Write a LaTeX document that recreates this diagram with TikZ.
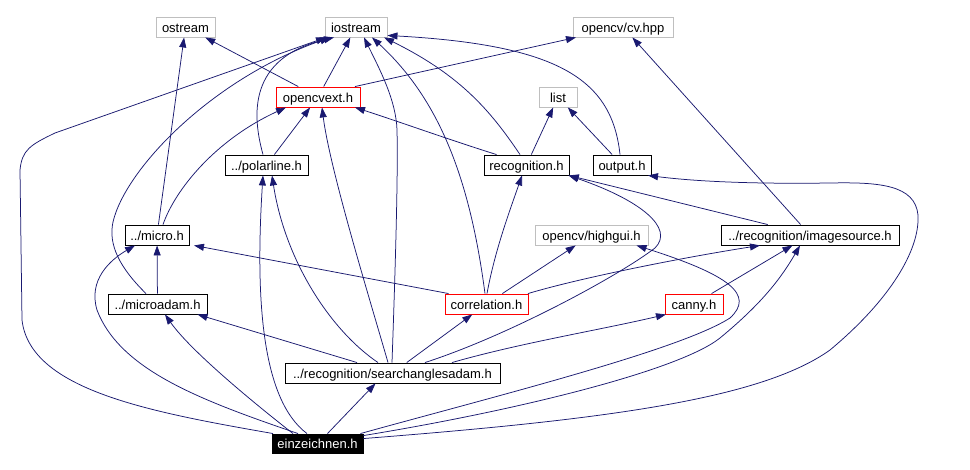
\documentclass[tikz,border=0pt]{standalone}
\usepackage{fontspec}
\setmainfont{Liberation Sans}
\usetikzlibrary{arrows.meta}
\definecolor{edgeblue}{HTML}{191970}
\definecolor{boxgray}{HTML}{BFBFBF}
\begin{document}
\begin{tikzpicture}[x=1pt,y=-1pt,
  box/.style={draw=black, line width=0.9pt, fill=white, minimum height=20pt, inner sep=0pt, text height=11.5pt, text depth=0.5pt, font=\fontsize{13}{15}\selectfont, text=black},
  gbox/.style={box, draw=boxgray},
  rbox/.style={box, draw=red},
  kbox/.style={box, fill=black, text=white, draw=black, minimum height=19pt},
  e/.style={draw=edgeblue, line width=0.75pt, -{Triangle[length=10pt,width=7pt]}}]
\path[use as bounding box, fill=white] (0,0) rectangle (970,470);
% nodes
\node[gbox, minimum width=59pt]  (ostream)   at (185.5,27) {ostream};
\node[gbox, minimum width=62pt]  (iostream)  at (356,27)   {iostream};
\node[gbox, minimum width=100pt] (cvhpp)     at (623,27)   {opencv/cv.hpp};
\node[rbox, minimum width=84pt]  (opencvext) at (318,97)   {opencvext.h};
\node[gbox, minimum width=38pt]  (list)      at (558,97)   {list};
\node[box,  minimum width=83pt]  (polarline) at (266.5,165) {../polarline.h};
\node[box,  minimum width=85pt]  (recognition) at (526.5,165) {recognition.h};
\node[box,  minimum width=58pt]  (output)    at (622,165)  {output.h};
\node[box,  minimum width=64pt]  (micro)     at (157,235)  {../micro.h};
\node[gbox, minimum width=113pt] (highgui)   at (591.5,235) {opencv/highgui.h};
\node[box,  minimum width=178pt] (imagesource) at (810,235) {../recognition/imagesource.h};
\node[box,  minimum width=99pt]  (microadam) at (157.5,304) {../microadam.h};
\node[rbox, minimum width=83pt]  (correlation) at (486.5,304) {correlation.h};
\node[rbox, minimum width=58pt]  (canny)     at (694,304)  {canny.h};
\node[box,  minimum width=215pt] (sa)        at (392.5,373) {../recognition/searchanglesadam.h};
\node[kbox, minimum width=91pt]  (ein)       at (317.5,443.5) {einzeichnen.h};
% edges
\draw[e] (opencvext) -- (ostream);
\draw[e] (opencvext) -- (iostream);
\draw[e] ([xshift=37pt]opencvext.north) -- (cvhpp);
\draw[e] (polarline) -- (opencvext);
\draw[e] ([xshift=-3.5pt]polarline.north) .. controls (252,115) and (248,58) .. ([xshift=-22pt]iostream.south);
\draw[e] (micro) -- (ostream);
\draw[e] ([xshift=6pt]micro.north) .. controls (175,190) and (215,140) .. ([xshift=-32pt]opencvext.south);
\draw[e] ([xshift=-11.5pt]microadam.north) .. controls (120,268) and (108,245) .. (113,222) .. controls (125,170) and (210,80) .. ([xshift=-26pt]iostream.south);
\draw[e] (microadam) -- (micro);
\draw[e] ([xshift=-19.5pt]ein.north) .. controls (200,400) and (120,370) .. (97,310) .. controls (88,280) and (110,260) .. ([xshift=-22pt]micro.south);
\draw[e] ([xshift=-44.5pt]ein.north) .. controls (150,412) and (30,390) .. (22,320) -- (20,170) .. controls (22,150) and (30,145) .. (55,133) -- ([xshift=-30pt]iostream.south);
\draw[e] ([xshift=-24.5pt]ein.north) .. controls (250,400) and (190,350) .. ([xshift=7.5pt]microadam.south);
\draw[e] ([xshift=-10.5pt]ein.north) .. controls (262,400) and (255,300) .. ([xshift=-3.5pt]polarline.south);
\draw[e] ([xshift=10pt]ein.north) -- ([xshift=-17pt]sa.south);
\draw[e] ([xshift=-3pt]ein.north east) .. controls (500,395) and (680,350) .. (730,318) .. controls (755,295) and (730,275) .. ([xshift=45pt]highgui.south);
\draw[e] ([yshift=-2pt]ein.north east) .. controls (520,410) and (680,370) .. (720,338) .. controls (760,305) and (780,280) .. ([xshift=-10pt]imagesource.south);
\draw[e] ([yshift=-5pt]ein.north east) .. controls (600,420) and (760,400) .. (830,350) .. controls (890,300) and (920,250) .. (918,215) .. controls (915,185) and (880,182) .. (830,183) .. controls (760,184) and (700,182) .. ([xshift=26pt]output.south);
\draw[e] ([xshift=-35.5pt]sa.north) -- ([xshift=40pt]microadam.south);
\draw[e] ([xshift=-14.5pt]sa.north) .. controls (330,330) and (285,260) .. ([xshift=5.5pt]polarline.south);
\draw[e] ([xshift=-4.5pt]sa.north) .. controls (370,300) and (330,170) .. ([xshift=4pt]opencvext.south);
\draw[e] ([xshift=-0.5pt]sa.north) .. controls (396,250) and (398,170) .. (397,130) .. controls (396,100) and (380,70) .. ([xshift=8pt]iostream.south);
\draw[e] (sa) -- (correlation);
\draw[e] ([xshift=32.5pt]sa.north) .. controls (510,335) and (620,275) .. (655,248) .. controls (675,228) and (640,200) .. ([xshift=42pt]recognition.south);
\draw[e] ([xshift=59.5pt]sa.north) .. controls (520,343) and (600,330) .. ([xshift=-28pt]canny.south);
\draw[e] ([xshift=-38pt]correlation.north) -- ([xshift=37pt]micro.south);
\draw[e] ([xshift=-1.5pt]correlation.north) .. controls (470,180) and (440,100) .. ([xshift=16pt]iostream.south);
\draw[e] ([xshift=0.5pt]correlation.north) .. controls (495,250) and (510,210) .. ([xshift=-4.5pt]recognition.south);
\draw[e] (correlation) -- (highgui);
\draw[e] ([xshift=41.5pt]correlation.north) .. controls (580,278) and (680,258) .. ([xshift=-50pt]imagesource.south);
\draw[e] (imagesource) -- (recognition);
\draw[e] (imagesource) -- (cvhpp);
\draw[e] (canny) -- (imagesource);
\draw[e] (recognition) -- (list);
\draw[e] ([xshift=-30pt]recognition.north) .. controls (450,140) and (400,122) .. ([xshift=37pt]opencvext.south);
\draw[e] ([xshift=-6.5pt]recognition.north) .. controls (490,110) and (460,75) .. ([xshift=28pt]iostream.south);
\draw[e] (output) -- (list);
\draw[e] ([xshift=-2pt]output.north) .. controls (612,80) and (560,45) .. ([yshift=2pt]iostream.south east);
\end{tikzpicture}
\end{document}
